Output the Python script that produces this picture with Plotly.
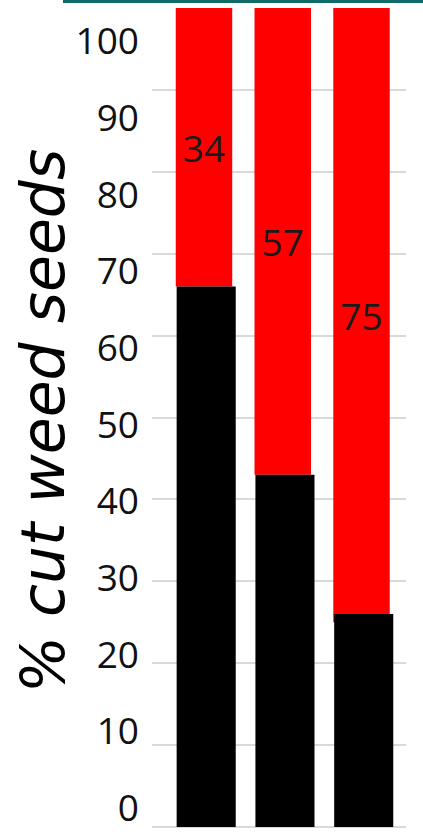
import plotly.graph_objects as go

# ---- data ----
categories = ["A", "B", "C"]
cut_pct = [34, 57, 75]          # red segment, labelled
black_pct = [66, 43, 26]        # black lower segment (overlaid)
tick_vals = [0, 10, 20, 30, 40, 50, 60, 70, 80, 90, 100]
tick_text = [str(v) for v in tick_vals]

W, H = 423, 836
def px_x(p): return p / W
def px_y(p): return 1 - p / H

fig = go.Figure()

# red segments: reach the top (100), labelled with their share
fig.add_trace(go.Bar(
    x=categories, y=cut_pct, base=[100 - c for c in cut_pct],
    marker=dict(color="#ff0000", line=dict(width=0)),
    width=0.717,
    text=[str(v) for v in cut_pct],
    textposition="inside", insidetextanchor="middle", textangle=0,
    insidetextfont=dict(family="Open Sans", size=37, color="#1a1a1a"),
    showlegend=False, hoverinfo="skip",
))
# black segments, slightly wider and shifted right
fig.add_trace(go.Bar(
    x=categories, y=black_pct,
    marker=dict(color="#000000", line=dict(width=0)),
    width=0.75, offset=-0.347,
    showlegend=False, hoverinfo="skip",
))
# invisible trace to carry the tick-label axis
fig.add_trace(go.Scatter(x=[None], y=[None], xaxis="x", yaxis="y2",
                         showlegend=False, hoverinfo="skip"))

fig.update_layout(
    width=W, height=H,
    margin=dict(l=0, r=0, t=0, b=0),
    paper_bgcolor="white", plot_bgcolor="rgba(0,0,0,0)",
    barmode="overlay",
    xaxis=dict(domain=[px_x(152), px_x(405.7)], range=[-0.66, 2.561],
               showticklabels=False, showgrid=False, zeroline=False,
               showline=False, ticks="", automargin=False),
    yaxis=dict(domain=[px_y(827), px_y(8)], range=[0, 100],
               tickvals=tick_vals, showticklabels=False, ticks="",
               showgrid=True, gridcolor="#d9d9d9", gridwidth=1.5,
               zeroline=True, zerolinecolor="#d9d9d9", zerolinewidth=1.5,
               showline=False, automargin=False),
    yaxis2=dict(domain=[px_y(808), px_y(41.5)], range=[0, 100],
                anchor="free", position=px_x(139),
                tickvals=tick_vals, ticktext=tick_text, ticks="",
                showgrid=False, zeroline=False, showline=False,
                ticklabeloverflow="allow",
                tickfont=dict(family="Open Sans", size=37, color="#111111"),
                automargin=False),
    shapes=[dict(type="line", xref="paper", yref="paper",
                 x0=px_x(63), x1=1, y0=px_y(1.5), y1=px_y(1.5),
                 line=dict(color="#0e6b67", width=3))],
    annotations=[dict(text="% cut weed seeds", xref="paper", yref="paper",
                      x=px_x(43), y=px_y(421), xanchor="center", yanchor="middle",
                      textangle=-90, showarrow=False,
                      font=dict(family="DejaVu Sans", size=60, color="#000000",
                                style="italic"))],
)

fig.write_html("out.html")
